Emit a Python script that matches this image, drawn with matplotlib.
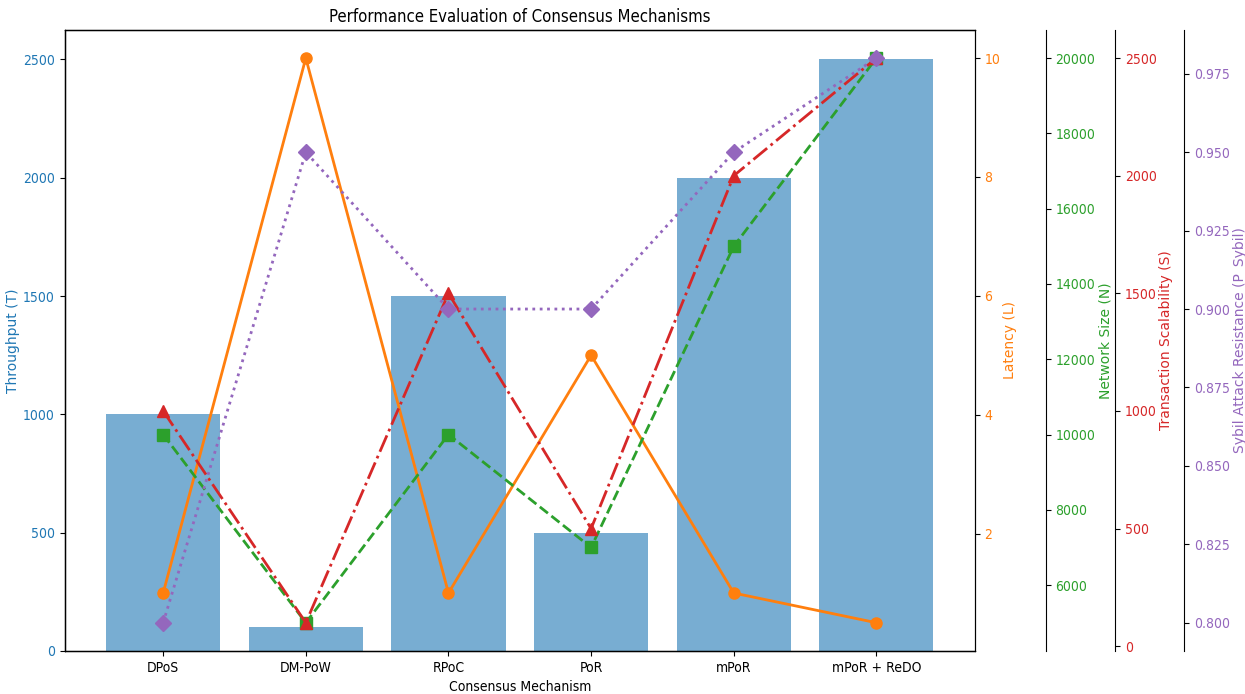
import matplotlib
matplotlib.use('Agg')
import matplotlib.pyplot as plt
import numpy as np

mechanisms = ['DPoS', 'DM-PoW', 'RPoC', 'PoR', 'mPoR', 'mPoR + ReDO']
throughput = [1000, 100, 1500, 500, 2000, 2500]
latency = [1, 10, 1, 5, 1, 0.5]
network_size = [10000, 5000, 10000, 7000, 15000, 20000]
scalability = [1000, 100, 1500, 500, 2000, 2500]
sybil = [0.80, 0.95, 0.90, 0.90, 0.95, 0.98]

plt.rcParams['font.family'] = ['DejaVu Sans']
plt.rcParams['font.stretch'] = 'condensed'

fig, ax1 = plt.subplots(figsize=(12.45, 6.94), dpi=100)
fig.subplots_adjust(left=0.052, right=0.783, top=0.957, bottom=0.062)

x = np.arange(len(mechanisms))
ylab = dict(fontstretch='normal', labelpad=2)

# throughput as bars on the main axis
ax1.bar(x, throughput, color='tab:blue', alpha=0.6, width=0.8)
ax1.set_xticks(x)
ax1.set_xticklabels(mechanisms)
ax1.set_xlabel('Consensus Mechanism')
ax1.set_ylabel('Throughput (T)', color='tab:blue', **ylab)
ax1.tick_params(axis='y', labelcolor='tab:blue')

# latency on the first twin axis
ax2 = ax1.twinx()
ax2.plot(x, latency, color='tab:orange', marker='o', linestyle='-', linewidth=2, markersize=8)
ax2.set_ylabel('Latency (L)', color='tab:orange', **ylab)
ax2.tick_params(axis='y', labelcolor='tab:orange')

# the rest get pushed out to the right
ax3 = ax1.twinx()
ax3.spines['right'].set_position(('axes', 1.078))
ax3.plot(x, network_size, color='tab:green', marker='s', linestyle='--', linewidth=2, markersize=8)
ax3.set_ylabel('Network Size (N)', color='tab:green', **ylab)
ax3.tick_params(axis='y', labelcolor='tab:green')

ax4 = ax1.twinx()
ax4.spines['right'].set_position(('axes', 1.154))
ax4.plot(x, scalability, color='tab:red', marker='^', linestyle='-.', linewidth=2, markersize=8)
ax4.set_ylabel('Transaction Scalability (S)', color='tab:red', **ylab)
ax4.tick_params(axis='y', labelcolor='tab:red')

ax5 = ax1.twinx()
ax5.spines['right'].set_position(('axes', 1.23))
ax5.plot(x, sybil, color='tab:purple', marker='D', linestyle=':', linewidth=2, markersize=8)
ax5.set_ylabel('Sybil Attack Resistance (P_Sybil)', color='tab:purple', **ylab)
ax5.tick_params(axis='y', labelcolor='tab:purple')

plt.title('Performance Evaluation of Consensus Mechanisms')
plt.savefig('out.png')
plt.close()
